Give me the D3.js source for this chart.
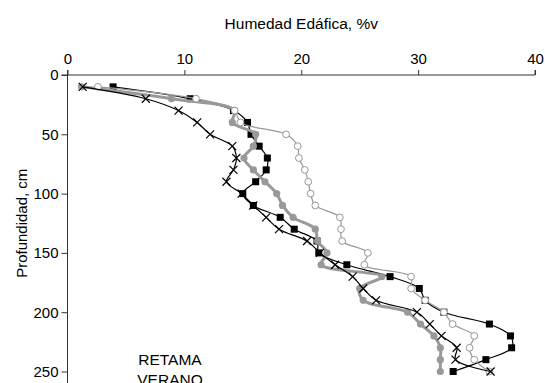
<!DOCTYPE html>
<html>
<head>
<meta charset="utf-8">
<script src="https://cdn.jsdelivr.net/npm/d3@7"></script>
<style>
    body { margin: 0; background: #fff; }
    text { font-family: "Liberation Sans", Arial, sans-serif; fill: #000; }
</style>
</head>
<body>
<div id="chart"></div>
<script>
// profundidad (cm)
const depths = [10, 20, 30, 40, 50, 60, 70, 80, 90, 100, 110, 120, 130, 140, 150, 160, 170, 180, 190, 200, 210, 220, 230, 240, 250];
// humedad %v por serie
const squareSeries = [3.9, 10.5, 14.2, 15.4, 15.7, 16.4, 17.1, 17.0, 16.1, 15.0, 15.9, 18.2, 19.4, 21.35, 21.5, 23.9, 27.6, 30.1, 30.6, 32.2, 36.1, 37.9, 38.0, 35.8, 33.0];
const greyDotSeries = [1.2, 8.9, 14.3, 14.1, 16.1, 15.9, 15.1, 15.9, 16.9, 17.9, 18.4, 19.3, 21.2, 21.4, 22.2, 21.7, 26.9, 25.0, 25.3, 29.1, 30.2, 31.35, 31.9, 31.9, 31.9];
const openCircleSeries = [2.6, 11.0, 14.3, 14.8, 18.7, 19.7, 19.8, 20.3, 20.6, 20.8, 21.2, 23.3, 23.4, 23.5, 25.7, 25.4, 29.4, 29.4, 30.6, 32.2, 32.95, 34.8, 34.4, 34.8, 36.1];
const crossSeries = [1.3, 6.7, 9.5, 11.1, 12.2, 14.1, 14.45, 14.2, 13.6, 14.9, 15.9, 17.0, 18.1, 20.5, 21.6, 22.9, 24.4, 25.3, 26.4, 29.9, 31.0, 32.0, 33.3, 33.2, 36.2];
const xTicks = [0, 10, 20, 30, 40];
const yTicks = [0, 50, 100, 150, 200, 250];

const width = 545, height = 383;
const plotLeft = 67.5, plotRight = 535, plotTop = 75;

const svg = d3.select('#chart').append('svg')
    .attr('width', width)
    .attr('height', height);

const x = d3.scaleLinear().domain([0, 40]).range([plotLeft, plotRight]);
const y = d3.scaleLinear().domain([0, 250]).range([plotTop, 371.5]);

// ejes
const xAxis = d3.axisTop(x).tickValues(xTicks).tickSize(5).tickPadding(6);
const gx = svg.append('g')
    .attr('transform', `translate(0,${plotTop})`)
    .call(xAxis);
gx.select('.domain').attr('d', `M${plotLeft},-5V0H${plotRight}V-5`);

const yAxis = d3.axisLeft(y).tickValues(yTicks).tickSize(6).tickPadding(3);
const gy = svg.append('g')
    .attr('transform', `translate(${plotLeft},0)`)
    .call(yAxis);
gy.select('.domain').attr('d', `M-6,${plotTop}H0V${height}`);

svg.selectAll('.tick line, .domain').attr('stroke', '#333').attr('stroke-width', 1);
svg.selectAll('.tick text').style('font-size', '15px');

svg.append('text')
    .attr('x', (plotLeft + plotRight) / 2)
    .attr('y', 29)
    .attr('text-anchor', 'middle')
    .style('font-size', '15.5px')
    .text('Humedad Edáfica, %v');

svg.append('text')
    .attr('transform', `translate(27,${y(125)}) rotate(-90)`)
    .attr('text-anchor', 'middle')
    .style('font-size', '15px')
    .text('Profundidad, cm');

const line = d3.line()
    .curve(d3.curveCatmullRom.alpha(0.5))
    .x(d => x(d.v))
    .y(d => y(d.d));

function pts(vals) {
    return vals.map((v, i) => ({ v: v, d: depths[i] }));
}

// serie cuadrados negros
const sq = pts(squareSeries);
svg.append('path').attr('d', line(sq))
    .attr('fill', 'none').attr('stroke', '#000').attr('stroke-width', 1.2);
svg.selectAll('.sq').data(sq).enter().append('rect')
    .attr('x', d => x(d.v) - 3.5).attr('y', d => y(d.d) - 3.5)
    .attr('width', 7).attr('height', 7)
    .attr('fill', '#000');

// serie circulos grises rellenos
const gd = pts(greyDotSeries);
svg.append('path').attr('d', line(gd))
    .attr('fill', 'none').attr('stroke', '#999').attr('stroke-width', 3);
svg.selectAll('.gd').data(gd).enter().append('circle')
    .attr('cx', d => x(d.v)).attr('cy', d => y(d.d)).attr('r', 3.6)
    .attr('fill', '#999');

// serie circulos abiertos
const oc = pts(openCircleSeries);
svg.append('path').attr('d', line(oc))
    .attr('fill', 'none').attr('stroke', '#999').attr('stroke-width', 1.2);
svg.selectAll('.oc').data(oc).enter().append('circle')
    .attr('cx', d => x(d.v)).attr('cy', d => y(d.d)).attr('r', 3.4)
    .attr('fill', '#fff').attr('stroke', '#999').attr('stroke-width', 1);

// serie cruces
const cr = pts(crossSeries);
svg.append('path').attr('d', line(cr))
    .attr('fill', 'none').attr('stroke', '#000').attr('stroke-width', 1.2);
svg.selectAll('.cr').data(cr).enter().append('path')
    .attr('d', d => {
        const cx = x(d.v), cy = y(d.d), s = 4;
        return `M${cx - s},${cy - s}L${cx + s},${cy + s}M${cx - s},${cy + s}L${cx + s},${cy - s}`;
    })
    .attr('stroke', '#000').attr('stroke-width', 1.2);

svg.append('text')
    .attr('x', 170).attr('y', 365)
    .attr('text-anchor', 'middle')
    .style('font-size', '15.5px')
    .text('RETAMA');
svg.append('text')
    .attr('x', 170).attr('y', 385)
    .attr('text-anchor', 'middle')
    .style('font-size', '15.5px')
    .text('VERANO');
</script>
</body>
</html>
